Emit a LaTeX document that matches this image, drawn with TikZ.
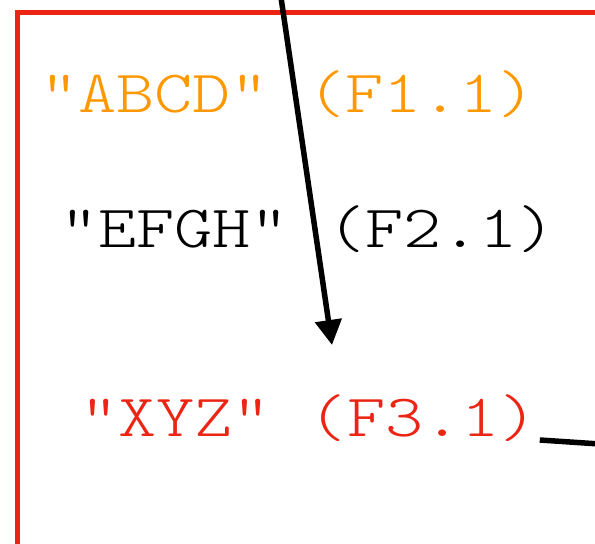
\documentclass[tikz,border=0pt]{standalone}
\usepackage{fontspec}
\usepackage{graphicx}
\usetikzlibrary{arrows.meta,positioning}
\newfontfamily\courfont{lmmonolt10-regular.otf}
\definecolor{boxred}{RGB}{236,36,20}
\definecolor{fieldorange}{RGB}{255,152,0}
\newcommand{\fieldtext}[1]{\scalebox{1.21}[1]{#1}}

\begin{document}
\begin{tikzpicture}[
      x=1pt, y=-1pt,
      field/.style={anchor=base west, inner sep=0pt, font=\courfont\fontsize{60}{70}\selectfont},
      arr/.style={-{Triangle[length=25pt, width=26pt]}, line width=5.5pt},
      link/.style={line width=5.5pt},
    ]
    \useasboundingbox (0,0) rectangle (595,544);
    \clip (0,0) rectangle (595,544);
    \draw[boxred, line width=5pt] (17.5,12.5) rectangle (700,700);
    \node[field, text=fieldorange] (abcd) at (40,112) {\fieldtext{"ABCD" (F1.1)}};
    \node[field, text=black] (efgh) at (60,247) {\fieldtext{"EFGH" (F2.1)}};
    \node[field, text=boxred] (xyz) at (80,436) {\fieldtext{"XYZ" (F3.1)}};
    \coordinate (in1) at (275.5,-40);
    \coordinate (tgt) at (332,345);
    \coordinate (out1) at (660,448);
    \draw[arr] (in1) -- (tgt);
    \draw[link] ([xshift=2pt, yshift=-4pt]xyz.base east) -- (out1);
  \end{tikzpicture}
\end{document}
